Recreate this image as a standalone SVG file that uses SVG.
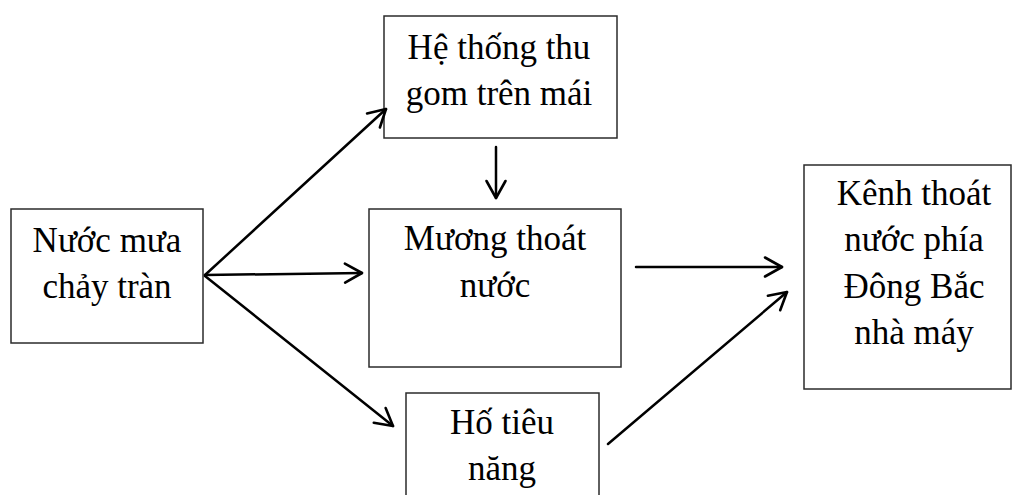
<svg xmlns="http://www.w3.org/2000/svg" width="1014" height="495" viewBox="0 0 1014 495">
  <style>
    .box { fill: #ffffff; stroke: #2b2b2b; stroke-width: 1.5; }
    .lbl { font-family: "Liberation Serif", "Times New Roman", serif; font-size: 35px; fill: #000000; text-anchor: middle; }
    .arrow { fill: none; stroke: #000000; stroke-width: 2.5; stroke-linecap: round; marker-end: url(#head); }
  </style>
  <defs>
    <marker id="head" markerUnits="userSpaceOnUse" markerWidth="26" markerHeight="26" viewBox="-22 -13 26 26" refX="0" refY="0" orient="auto">
      <path d="M -17 -9.5 L 0 0 L -17 9.5" fill="none" stroke="#000000" stroke-width="2.6" stroke-linecap="round" stroke-linejoin="round"/>
    </marker>
  </defs>
  <rect width="1014" height="495" fill="#ffffff"/>

  <g id="node-nuoc-mua">
    <rect class="box" x="11" y="209" width="192" height="134"/>
    <text class="lbl" x="107" y="252">Nước mưa</text>
    <text class="lbl" x="107" y="298">chảy tràn</text>
  </g>

  <g id="node-thu-gom">
    <rect class="box" x="384" y="16" width="233" height="122"/>
    <text class="lbl" x="499" y="59">Hệ thống thu</text>
    <text class="lbl" x="499" y="105">gom trên mái</text>
  </g>

  <g id="node-muong">
    <rect class="box" x="369" y="209" width="252" height="158"/>
    <text class="lbl" x="495" y="250">Mương thoát</text>
    <text class="lbl" x="495" y="297">nước</text>
  </g>

  <g id="node-ho-tieu-nang">
    <rect class="box" x="406" y="393" width="193" height="110"/>
    <text class="lbl" x="502" y="434">Hố tiêu</text>
    <text class="lbl" x="502" y="480">năng</text>
  </g>

  <g id="node-kenh">
    <rect class="box" x="804" y="165" width="207" height="224"/>
    <text class="lbl" x="914" y="205">Kênh thoát</text>
    <text class="lbl" x="914" y="251">nước phía</text>
    <text class="lbl" x="914" y="298">Đông Bắc</text>
    <text class="lbl" x="914" y="344">nhà máy</text>
  </g>

  <g id="connectors">
    <line class="arrow" x1="205" y1="275" x2="386" y2="109"/>
    <line class="arrow" x1="205" y1="275" x2="362" y2="273"/>
    <line class="arrow" x1="205" y1="276" x2="393" y2="426"/>
    <line class="arrow" x1="496" y1="147" x2="496" y2="198"/>
    <line class="arrow" x1="636" y1="267" x2="782" y2="267"/>
    <line class="arrow" x1="608" y1="444" x2="787" y2="292"/>
  </g>
</svg>
